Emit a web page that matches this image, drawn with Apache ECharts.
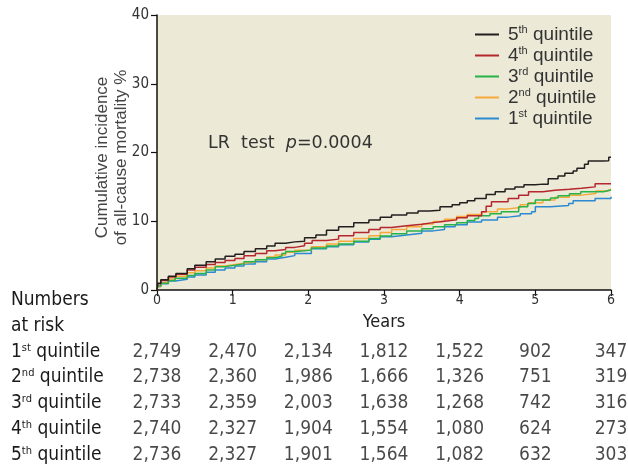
<!DOCTYPE html>
<html>
<head>
<meta charset="utf-8">
<script src="https://cdn.jsdelivr.net/npm/echarts@6/dist/echarts.min.js"></script>
<style>
  html, body { margin: 0; padding: 0; background: #ffffff; }
  #chart { width: 628px; height: 468px; }
</style>
</head>
<body>
<div id="chart"></div>
<script>
// Cumulative incidence (%), [years, value]
const q5 = [[0,0],[0.01,1.0],[0.05,1.5],[0.15,2.0],[0.25,2.4],[0.4,3.1],[0.5,3.6],[0.65,4.1],[0.77,4.5],[0.9,4.9],[1.03,5.2],[1.15,5.6],[1.3,6.0],[1.45,6.4],[1.56,6.8],[1.7,7.0],[1.82,7.1],[1.95,7.6],[2.1,8.0],[2.24,8.7],[2.4,9.2],[2.6,9.8],[2.8,10.2],[2.95,10.6],[3.1,10.9],[3.3,11.2],[3.45,11.5],[3.6,11.6],[3.74,12.1],[3.9,12.4],[4.0,12.7],[4.1,13.0],[4.2,13.3],[4.35,13.9],[4.47,14.3],[4.6,14.7],[4.73,15.0],[4.85,15.3],[5.0,15.4],[5.1,15.4],[5.17,16.2],[5.3,16.6],[5.39,17.0],[5.5,17.3],[5.55,17.7],[5.65,18.3],[5.7,18.75],[5.9,18.8],[5.97,19.3],[6,19.3]];
const q4 = [[0,0],[0.01,0.9],[0.05,1.4],[0.15,1.9],[0.25,2.3],[0.4,2.9],[0.5,3.3],[0.65,3.7],[0.77,4.0],[0.9,4.3],[1.03,4.6],[1.15,5.0],[1.3,5.3],[1.45,5.7],[1.56,5.9],[1.7,6.2],[1.82,6.45],[1.95,6.8],[2.05,7.2],[2.24,7.4],[2.4,7.9],[2.6,8.35],[2.8,8.8],[2.95,9.1],[3.1,9.35],[3.3,9.55],[3.5,9.8],[3.65,10.0],[3.8,10.2],[3.96,10.5],[4.1,10.8],[4.29,11.4],[4.35,12.2],[4.42,12.85],[4.64,13.3],[4.78,13.8],[4.91,14.3],[5.1,14.5],[5.26,14.65],[5.45,14.8],[5.61,15.0],[5.79,15.45],[6,15.45]];
const q3 = [[0,0],[0.01,0.6],[0.05,1.0],[0.15,1.4],[0.24,1.7],[0.4,2.1],[0.5,2.4],[0.65,2.9],[0.77,3.4],[0.9,3.6],[1.03,3.8],[1.15,4.1],[1.3,4.4],[1.45,4.7],[1.56,4.9],[1.65,5.3],[1.7,5.6],[1.85,5.8],[2.04,6.1],[2.24,6.4],[2.4,6.7],[2.6,7.1],[2.8,7.5],[2.95,7.85],[3.1,8.2],[3.3,8.6],[3.5,8.9],[3.65,9.2],[3.8,9.5],[3.96,9.8],[4.1,10.1],[4.2,10.4],[4.25,10.8],[4.4,11.1],[4.55,11.4],[4.78,12.1],[4.9,12.6],[5.0,13.1],[5.2,13.4],[5.3,13.7],[5.45,14.0],[5.6,14.3],[5.9,14.55],[6,14.6]];
const q2 = [[0,0],[0.01,0.5],[0.05,1.1],[0.15,1.6],[0.24,2.0],[0.4,2.5],[0.5,2.8],[0.65,3.2],[0.77,3.5],[0.9,3.7],[1.03,3.9],[1.15,4.1],[1.3,4.4],[1.45,4.8],[1.56,5.1],[1.7,5.5],[1.82,5.8],[2.04,6.3],[2.24,6.7],[2.4,7.1],[2.6,7.5],[2.8,7.9],[2.95,8.35],[3.1,8.8],[3.3,9.2],[3.5,9.6],[3.65,9.95],[3.8,10.3],[3.96,10.7],[4.1,11.0],[4.29,11.4],[4.5,11.8],[4.64,12.0],[4.8,12.4],[4.91,12.7],[5.1,13.1],[5.26,13.5],[5.45,13.8],[5.61,14.05],[5.8,14.4],[5.95,14.65],[6,14.7]];
const q1 = [[0,0],[0.01,0.5],[0.05,0.9],[0.15,1.3],[0.24,1.55],[0.4,1.9],[0.5,2.2],[0.65,2.6],[0.77,2.9],[0.9,3.2],[1.03,3.5],[1.15,3.8],[1.3,4.1],[1.45,4.5],[1.56,4.75],[1.7,5.0],[1.82,5.3],[2.04,6.0],[2.24,6.3],[2.4,6.6],[2.6,7.0],[2.8,7.4],[2.95,7.75],[3.1,8.0],[3.3,8.25],[3.5,8.6],[3.65,8.8],[3.8,9.2],[3.94,9.5],[4.1,9.9],[4.29,10.2],[4.5,10.6],[4.64,10.8],[4.8,11.1],[4.95,11.4],[5.0,12.1],[5.2,12.3],[5.44,12.6],[5.5,13.0],[5.79,13.3],[6,13.55]];

// Numbers at risk, one value per year 0..6
const riskYears = [0, 1, 2, 3, 4, 5, 6];
const risk1 = [2749, 2470, 2134, 1812, 1522, 902, 347];
const risk2 = [2738, 2360, 1986, 1666, 1326, 751, 319];
const risk3 = [2733, 2359, 2003, 1638, 1268, 742, 316];
const risk4 = [2740, 2327, 1904, 1554, 1080, 624, 273];
const risk5 = [2736, 2327, 1901, 1564, 1082, 632, 303];

const tableRows = ['Numbers', 'at risk', '1{s|st} quintile', '2{s|nd} quintile', '3{s|rd} quintile', '4{s|th} quintile', '5{s|th} quintile'];
const seriesNames = ['1st quintile', '2nd quintile', '3rd quintile', '4th quintile', '5th quintile'];
const legendLabels = { '5th quintile': '5{s|th} quintile', '4th quintile': '4{s|th} quintile', '3rd quintile': '3{s|rd} quintile', '2nd quintile': '2{s|nd} quintile', '1st quintile': '1{s|st} quintile' };

const colors = ['#2b8ad1', '#f6a93b', '#27b24a', '#b5262d', '#231f20'];
const curves = [q1, q2, q3, q4, q5];
const riskTable = [risk1, risk2, risk3, risk4, risk5];

const narrow = '"DejaVu Sans Condensed", "Liberation Sans Narrow", sans-serif';

const chart = echarts.init(document.getElementById('chart'), null, { renderer: 'canvas' });

const lineSeries = curves.map((d, i) => ({
  name: seriesNames[i],
  type: 'line',
  xAxisIndex: 0,
  yAxisIndex: 0,
  step: 'end',
  data: d,
  showSymbol: false,
  symbol: 'none',
  lineStyle: { color: colors[i], width: 1.5 },
  itemStyle: { color: colors[i] },
  silent: true,
  z: 2 + i
}));

const riskData = [];
riskTable.forEach((row, r) => {
  row.forEach((n, c) => riskData.push([riskYears[c], tableRows[r + 2], n]));
});

const option = {
  animation: false,
  grid: [
    { left: 157, right: 17, top: 15, bottom: 178, show: true, backgroundColor: '#ece9d7', borderWidth: 0 },
    { left: 157, right: 17, top: 287, height: 184 }
  ],
  legend: {
    data: ['5th quintile', '4th quintile', '3rd quintile', '2nd quintile', '1st quintile'],
    orient: 'vertical',
    left: 470,
    top: 19,
    itemGap: 0,
    itemWidth: 24,
    itemHeight: 2,
    icon: 'rect',
    formatter: name => legendLabels[name],
    textStyle: {
      fontFamily: '"Liberation Sans", Arial, sans-serif',
      fontSize: 19,
      lineHeight: 21,
      color: '#333',
      padding: [0, 0, 0, 4],
      rich: {
        s: { fontSize: 11, lineHeight: 11, verticalAlign: 'top', color: '#333', fontFamily: '"Liberation Sans", Arial, sans-serif' }
      }
    }
  },
  graphic: [
    {
      type: 'text',
      left: 208,
      top: 134,
      style: {
        rich: {
          a: { fontFamily: '"DejaVu Sans", sans-serif', fontSize: 17.5, fill: '#333' },
          p: { fontFamily: '"DejaVu Sans", sans-serif', fontSize: 17.5, fontStyle: 'italic', fill: '#333' }
        },
        text: '{a|LR  test  }{p|p}{a|=0.0004}'
      }
    }
  ],
  xAxis: [
    {
      gridIndex: 0,
      type: 'value',
      min: 0,
      max: 6,
      interval: 1,
      name: 'Years',
      nameLocation: 'middle',
      nameGap: 23,
      nameTextStyle: { fontFamily: narrow, fontSize: 18, color: '#222' },
      axisLine: { lineStyle: { color: '#111', width: 1.5 } },
      axisTick: { length: 6, lineStyle: { color: '#111', width: 1.2 } },
      axisLabel: { fontFamily: narrow, fontSize: 14, color: '#333', margin: 3 },
      splitLine: { show: false }
    },
    {
      gridIndex: 1,
      type: 'value',
      min: 0,
      max: 6,
      show: false
    }
  ],
  yAxis: [
    {
      gridIndex: 0,
      type: 'value',
      min: 0,
      max: 40,
      interval: 10,
      name: 'Cumulative incidence\nof all-cause mortality %',
      nameLocation: 'middle',
      nameRotate: 90,
      nameGap: 26,
      nameMoveOverlap: false,
      nameTextStyle: { fontFamily: '"Liberation Sans", Arial, sans-serif', fontSize: 17, lineHeight: 19, color: '#444', padding: [0, 10, 0, 0] },
      axisLine: { show: true, lineStyle: { color: '#111', width: 1.5 } },
      axisTick: { show: true, length: 6, lineStyle: { color: '#111', width: 1.2 } },
      axisLabel: { fontFamily: narrow, fontSize: 15, color: '#333', margin: 8 },
      splitLine: { show: false }
    },
    {
      gridIndex: 1,
      type: 'category',
      inverse: true,
      data: tableRows,
      axisLine: { show: false },
      axisTick: { show: false },
      splitLine: { show: false },
      axisLabel: {
        interval: 0,
        align: 'left',
        margin: 146,
        fontFamily: narrow,
        fontSize: 19,
        color: '#1a1a1a',
        rich: {
          s: { fontFamily: narrow, fontSize: 11, lineHeight: 11, verticalAlign: 'top', color: '#1a1a1a' }
        }
      }
    }
  ],
  series: lineSeries.concat([
    {
      name: 'risk',
      type: 'scatter',
      xAxisIndex: 1,
      yAxisIndex: 1,
      data: riskData,
      symbolSize: 1,
      itemStyle: { color: 'rgba(0,0,0,0)' },
      silent: true,
      label: {
        show: true,
        position: 'inside',
        fontFamily: narrow,
        fontSize: 19,
        color: '#1a1a1a',
        formatter: p => p.value[2].toLocaleString('en-US')
      }
    }
  ])
};

chart.setOption(option);
</script>
</body>
</html>
